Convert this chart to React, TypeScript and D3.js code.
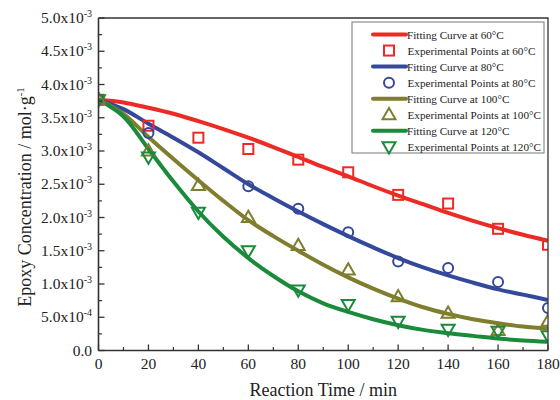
import * as d3 from 'd3'

// Reaction time samples (min)
const TIMES = [0, 20, 40, 60, 80, 100, 120, 140, 160, 180]
const CURVE_T = [0, 10, 20, 30, 40, 50, 60, 70, 80, 90, 100, 110, 120, 130, 140, 150, 160, 170, 180]

// experimental points, x1e-3 mol/g (null = not measured)
const EXP_60 = [3.77, 3.38, 3.20, 3.03, 2.87, 2.68, 2.34, 2.21, 1.83, 1.59]
const EXP_80 = [3.77, 3.27, null, 2.47, 2.13, 1.78, 1.34, 1.24, 1.03, 0.64]
const EXP_100 = [3.78, 3.00, 2.48, 2.00, 1.58, 1.21, 0.81, 0.56, 0.30, 0.44]
const EXP_120 = [3.77, 2.91, 2.08, 1.50, 0.91, 0.69, 0.44, 0.32, 0.29, 0.22]

// fitted curves, x1e-3 mol/g
const FIT_60 = [3.77, 3.73, 3.65, 3.56, 3.45, 3.33, 3.20, 3.06, 2.91, 2.76, 2.62, 2.47, 2.33, 2.20, 2.07, 1.95, 1.84, 1.74, 1.65]
const FIT_80 = [3.77, 3.63, 3.41, 3.20, 2.98, 2.74, 2.50, 2.29, 2.09, 1.90, 1.72, 1.55, 1.39, 1.25, 1.13, 1.02, 0.92, 0.84, 0.76]
const FIT_100 = [3.77, 3.56, 3.21, 2.88, 2.56, 2.25, 1.96, 1.72, 1.50, 1.29, 1.10, 0.93, 0.78, 0.65, 0.55, 0.47, 0.41, 0.36, 0.33]
const FIT_120 = [3.77, 3.52, 3.03, 2.54, 2.09, 1.71, 1.39, 1.12, 0.89, 0.71, 0.58, 0.47, 0.38, 0.31, 0.26, 0.22, 0.18, 0.15, 0.13]

const Y_TICKS = [0, 0.5, 1.0, 1.5, 2.0, 2.5, 3.0, 3.5, 4.0, 4.5, 5.0]
const X_TICKS = [0, 20, 40, 60, 80, 100, 120, 140, 160, 180]

const SERIES = [
  { temp: '60', color: '#ec2b25', fit: FIT_60, exp: EXP_60, marker: 'square' },
  { temp: '80', color: '#34489c', fit: FIT_80, exp: EXP_80, marker: 'circle' },
  { temp: '100', color: '#7e7e2e', fit: FIT_100, exp: EXP_100, marker: 'up' },
  { temp: '120', color: '#1a8a3b', fit: FIT_120, exp: EXP_120, marker: 'down' },
]

const W = 560
const H = 400
const M = { left: 98.5, right: 12, top: 18, bottom: 49.5 }
const FONT = "'Liberation Serif', 'Times New Roman', serif"

function Marker({ kind, x, y, color }: { kind: string; x: number; y: number; color: string }) {
  const sw = 2
  if (kind === 'square') {
    return <rect x={x - 5} y={y - 5} width={10} height={10} fill="none" stroke={color} strokeWidth={sw} />
  }
  if (kind === 'circle') {
    return <circle cx={x} cy={y} r={5} fill="none" stroke={color} strokeWidth={sw} />
  }
  const s = 13
  const h = s * 0.866
  const d = kind === 'up'
    ? `M${x},${y - h * 0.6}L${x + s / 2},${y + h * 0.4}L${x - s / 2},${y + h * 0.4}Z`
    : `M${x},${y + h * 0.6}L${x + s / 2},${y - h * 0.4}L${x - s / 2},${y - h * 0.4}Z`
  return <path d={d} fill="none" stroke={color} strokeWidth={sw} strokeLinejoin="miter" />
}

function tickLabel(v: number) {
  if (v === 0) return <tspan>0.0</tspan>
  const exp = v < 1 ? '-4' : '-3'
  const mant = v < 1 ? v * 10 : v
  return <>
    <tspan>{mant.toFixed(1)}x10</tspan>
    <tspan dy={-6} fontSize={10}>{exp}</tspan>
  </>
}

export default function App() {
  const x = d3.scaleLinear().domain([0, 180]).range([M.left, W - M.right])
  const y = d3.scaleLinear().domain([0, 5]).range([H - M.bottom, M.top])
  const x0 = x(0), x1 = x(180), y0 = y(0), y1 = y(5)

  const line = d3.line<number>()
    .x((_, i) => x(CURVE_T[i]))
    .y(d => y(d))
    .curve(d3.curveCatmullRom.alpha(0.5))

  const yMinor = d3.range(0.25, 5, 0.5)
  const xMinor = d3.range(10, 180, 20)

  const legX = 352, legY = 22, legW = 192, legH = 131
  const rowH = 16.05

  return (
    <>
      <style>{'body{margin:0}'}</style>
      <svg width={W} height={H} style={{ display: 'block', background: '#fff', fontFamily: FONT }}>
        <defs>
          <clipPath id="plot-clip">
            <rect x={x0} y={y1} width={x1 - x0} height={y0 - y1} />
          </clipPath>
        </defs>

        {/* curves + points */}
        <g clipPath="url(#plot-clip)">
          {SERIES.map(s => (
            <path key={'f' + s.temp} d={line(s.fit) || ''} fill="none" stroke={s.color} strokeWidth={4} />
          ))}
          {SERIES.map(s => (
            <g key={'e' + s.temp}>
              {s.exp.map((v, i) => v == null ? null : (
                <Marker key={i} kind={s.marker} x={x(TIMES[i])} y={y(v)} color={s.color} />
              ))}
            </g>
          ))}
        </g>

        {/* frame */}
        <path d={`M${x0},${y1}H${x1}V${y0}`} fill="none" stroke="#333" strokeWidth={1.3} />
        <line x1={x0} y1={y0} x2={x1} y2={y0} stroke="#333" strokeWidth={1.6} />
        <line x1={x0} y1={y0} x2={x0} y2={y1} stroke="#333" strokeWidth={1.6} />

        {/* y ticks */}
        {Y_TICKS.map(v => (
          <g key={'y' + v}>
            <line x1={x0} x2={x0 + 6} y1={y(v)} y2={y(v)} stroke="#333" strokeWidth={1.3} />
            <text x={v === 0 ? 92 : 92} y={y(v) + 5} textAnchor="end" fontSize={15.5} fill="#222">
              {tickLabel(v)}
            </text>
          </g>
        ))}
        {yMinor.map(v => (
          <line key={'ym' + v} x1={x0} x2={x0 + 3.5} y1={y(v)} y2={y(v)} stroke="#333" strokeWidth={1.2} />
        ))}

        {/* x ticks */}
        {X_TICKS.map(v => (
          <g key={'x' + v}>
            <line x1={x(v)} x2={x(v)} y1={y0} y2={y0 - 6} stroke="#333" strokeWidth={1.3} />
            <text x={x(v)} y={369} textAnchor="middle" fontSize={15.5} fill="#222">{v}</text>
          </g>
        ))}
        {xMinor.map(v => (
          <line key={'xm' + v} x1={x(v)} x2={x(v)} y1={y0} y2={y0 - 3.5} stroke="#333" strokeWidth={1.2} />
        ))}

        {/* axis titles */}
        <text x={(x0 + x1) / 2} y={396} textAnchor="middle" fontSize={18} fill="#222">Reaction Time / min</text>
        <text transform={`translate(31,197) rotate(-90)`} textAnchor="middle" fontSize={18} fill="#222">
          Epoxy Concentration / mol·g<tspan dy={-7} fontSize={11}>-1</tspan>
        </text>

        {/* legend */}
        <rect x={legX} y={legY} width={legW} height={legH} fill="#fff" stroke="#777" strokeWidth={1} />
        {SERIES.map((s, i) => {
          const r1 = legY + 12.5 + i * 2 * rowH
          const r2 = r1 + rowH
          return (
            <g key={'l' + s.temp}>
              <line x1={373} x2={406} y1={r1} y2={r1} stroke={s.color} strokeWidth={4} strokeLinecap="round" />
              <text x={407} y={r1 + 4} fontSize={11.2} fill="#222">Fitting Curve at {s.temp}°C</text>
              <Marker kind={s.marker} x={389} y={r2} color={s.color} />
              <text x={407.5} y={r2 + 4} fontSize={11.2} fill="#222">Experimental Points at {s.temp}°C</text>
            </g>
          )
        })}
      </svg>
    </>
  )
}
